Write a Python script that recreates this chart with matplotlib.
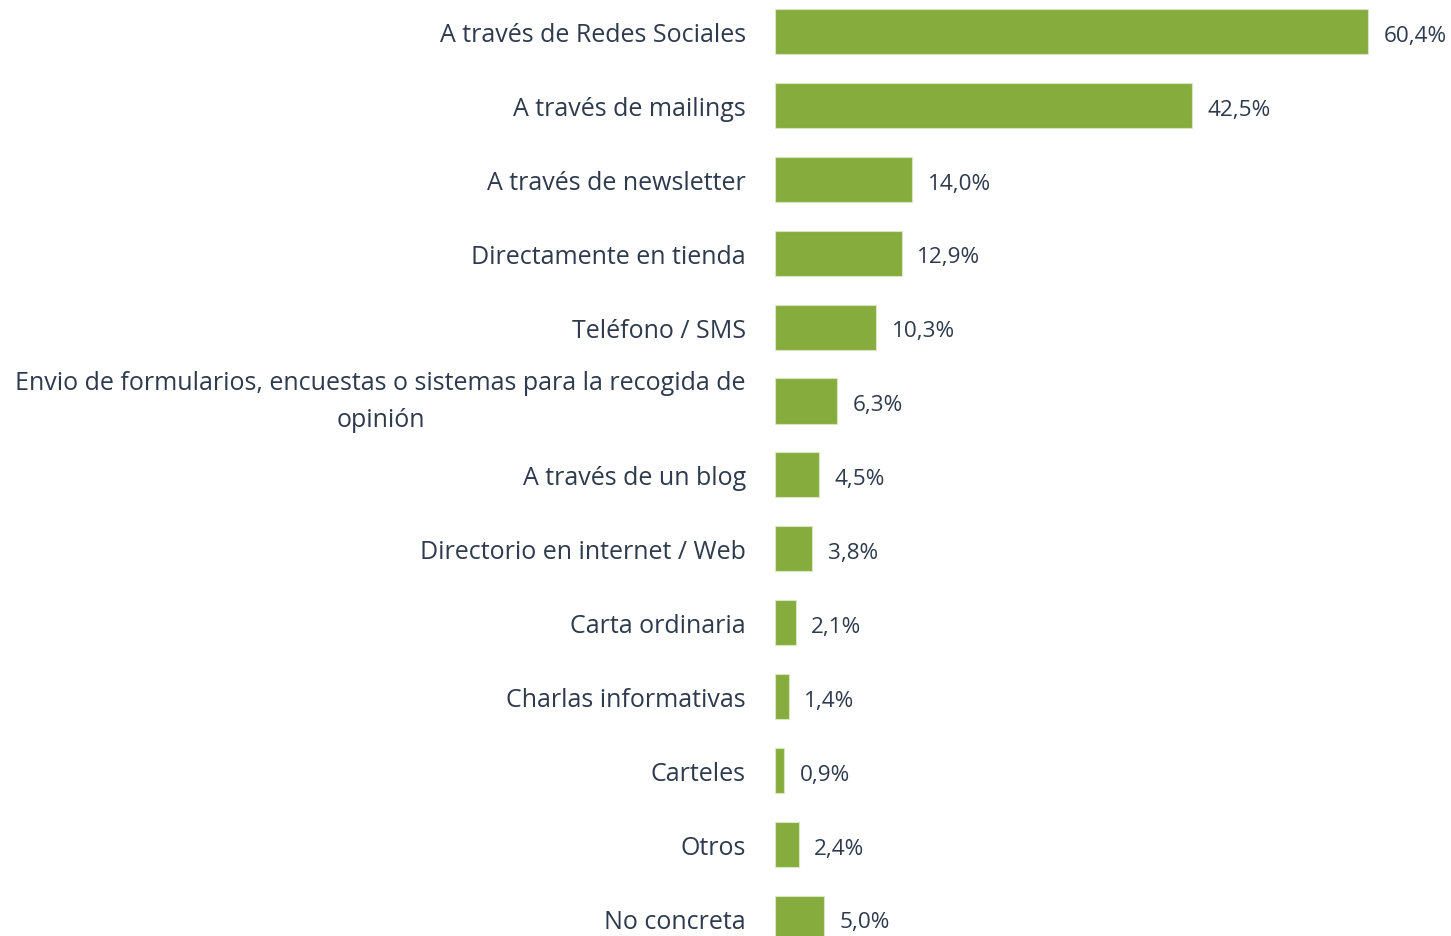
import matplotlib.pyplot as plt

# Datos del gráfico
categorias = [
    "A través de Redes Sociales",
    "A través de mailings",
    "A través de newsletter",
    "Directamente en tienda",
    "Teléfono / SMS",
    "Envio de formularios, encuestas o sistemas para la recogida de\nopinión",
    "A través de un blog",
    "Directorio en internet / Web",
    "Carta ordinaria",
    "Charlas informativas",
    "Carteles",
    "Otros",
    "No concreta",
]
valores = [60.4, 42.5, 14.0, 12.9, 10.3, 6.3, 4.5, 3.8, 2.1, 1.4, 0.9, 2.4, 5.0]
etiquetas = [f"{v:.1f}%".replace(".", ",") for v in valores]

verde = "#86AC3E"
texto = "#2E3A4D"

plt.rcParams['font.family'] = ['Open Sans', 'DejaVu Sans']

fig = plt.figure(figsize=(14.51, 9.37), dpi=100)
ax = fig.add_axes([775 / 1451, 0.0, 1 - 775 / 1451, 1.0])

pos = list(range(len(categorias)))
ax.barh(pos, valores, height=0.61, color=verde, edgecolor="#D9E6C3", linewidth=0.8)

# etiquetas de valor a la derecha de cada barra
for y, v, t in zip(pos, valores, etiquetas):
    ax.text(v + 1.6, y + 0.05, t, va="center", ha="left", fontsize=16.2, color=texto)

ax.set_xlim(0, 68.9)
ax.set_ylim(12.24, -0.44)
ax.set_yticks(pos)
ax.set_yticklabels(categorias, fontsize=18, color=texto, multialignment="center",
                   linespacing=1.6)
# la etiqueta de dos líneas se centra sobre la barra
for lbl in ax.get_yticklabels():
    if "\n" in lbl.get_text():
        lbl.set_verticalalignment("center")
ax.tick_params(axis="y", length=0, pad=21)
ax.set_xticks([])
for s in ax.spines.values():
    s.set_visible(False)

fig.savefig("out.png", dpi=100)
